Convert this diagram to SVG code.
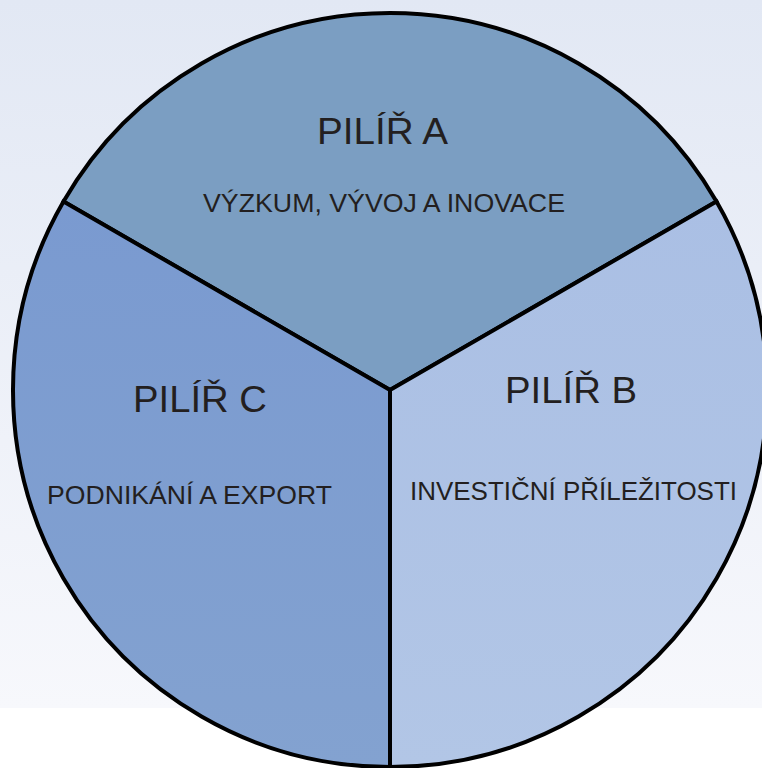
<svg xmlns="http://www.w3.org/2000/svg" width="762" height="768" viewBox="0 0 762 768">
  <defs>
    <linearGradient id="bg" x1="0" y1="0" x2="0" y2="708" gradientUnits="userSpaceOnUse">
      <stop offset="0" stop-color="#e2e8f4"/>
      <stop offset="1" stop-color="#f7f8fc"/>
    </linearGradient>
    <linearGradient id="gradC" x1="0" y1="200" x2="0" y2="767" gradientUnits="userSpaceOnUse">
      <stop offset="0" stop-color="#7a9ad0"/>
      <stop offset="1" stop-color="#83a2d0"/>
    </linearGradient>
    <linearGradient id="gradB" x1="0" y1="200" x2="0" y2="767" gradientUnits="userSpaceOnUse">
      <stop offset="0" stop-color="#aabfe4"/>
      <stop offset="1" stop-color="#b2c6e6"/>
    </linearGradient>
    <style>
      .sector { stroke: #000000; stroke-width: 4; stroke-linejoin: miter; }
      .head { font-family: "Liberation Sans", Arial, sans-serif; font-size: 37px; fill: #231f20; }
      .sub { font-family: "Liberation Sans", Arial, sans-serif; font-size: 26px; fill: #231f20; }
    </style>
  </defs>
  <rect x="0" y="0" width="762" height="708" fill="url(#bg)"/>
  <rect x="0" y="708" width="762" height="60" fill="#ffffff"/>

  <g id="pilir-a">
    <path class="sector" fill="#7b9ec2" d="M390,390 L63.5,201.5 A377,377 0 0 1 716.5,201.5 Z"/>
    <text class="head" x="317" y="144" textLength="131" lengthAdjust="spacingAndGlyphs">PILÍŘ A</text>
    <text class="sub" x="203" y="212" textLength="362" lengthAdjust="spacingAndGlyphs">VÝZKUM, VÝVOJ A INOVACE</text>
  </g>

  <g id="pilir-b">
    <path class="sector" fill="url(#gradB)" d="M390,390 L716.5,201.5 A377,377 0 0 1 390,767 Z"/>
    <text class="head" x="505" y="403" textLength="132" lengthAdjust="spacingAndGlyphs">PILÍŘ B</text>
    <text class="sub" x="410" y="499.5" textLength="327" lengthAdjust="spacingAndGlyphs">INVESTIČNÍ PŘÍLEŽITOSTI</text>
  </g>

  <g id="pilir-c">
    <path class="sector" fill="url(#gradC)" d="M390,390 L390,767 A377,377 0 0 1 63.5,201.5 Z"/>
    <text class="head" x="133" y="412" textLength="134" lengthAdjust="spacingAndGlyphs">PILÍŘ C</text>
    <text class="sub" x="47" y="503.5" textLength="285" lengthAdjust="spacingAndGlyphs">PODNIKÁNÍ A EXPORT</text>
  </g>

  <g id="connectors"></g>
</svg>
